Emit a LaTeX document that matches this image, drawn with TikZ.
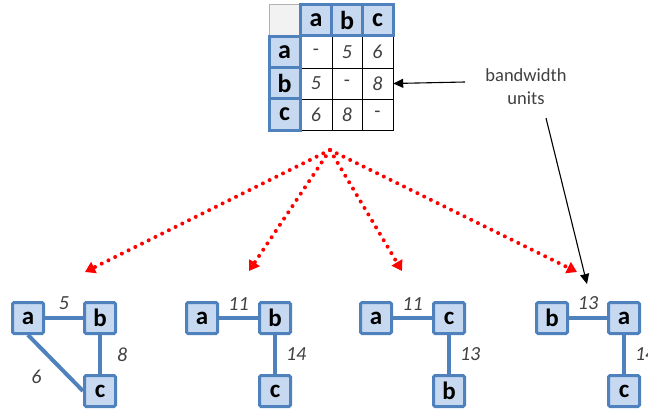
\documentclass[tikz,border=0pt]{standalone}
\usepackage{fontspec}
\setmainfont{Carlito}
\usetikzlibrary{positioning,arrows.meta,calc}
\definecolor{nodeblue}{RGB}{79,129,189}
\definecolor{nodefill}{RGB}{198,217,241}
\definecolor{numgray}{RGB}{64,64,64}
\definecolor{cornergray}{RGB}{242,242,242}
\tikzset{
  vtx/.style={draw=nodeblue,fill=nodefill,line width=3pt,rounded corners=1.5pt,minimum size=31pt,inner sep=0pt,font=\fontsize{25}{25}\selectfont\bfseries},
  hdr/.style={draw=nodeblue,fill=nodefill,line width=3pt,minimum width=31pt,minimum height=31.5pt,inner sep=0pt,font=\fontsize{26}{26}\selectfont\bfseries},
  cell/.style={minimum width=31pt,minimum height=31pt,inner sep=0pt,text=numgray,font=\fontsize{20}{20}\selectfont\itshape},
  link/.style={draw=nodeblue,line width=4pt},
  wt/.style={inner sep=1pt,text=numgray,font=\fontsize{20}{20}\selectfont\itshape},
  fanline/.style={red,line width=4pt,line cap=round,dash pattern=on 0pt off 7.5pt,shorten >=6pt},
  fantip/.style={red,line width=2.8pt,-{Triangle[open,length=10pt,width=12pt]}},
  ptr/.style={line width=1.1pt,-{Triangle[length=10pt,width=9pt]}}
}
\begin{document}
\begin{tikzpicture}[x=1pt,y=-1pt]
\useasboundingbox (0,0) rectangle (648,412);
% distance table
\draw[line width=0.8pt] (300,36) rectangle (393,130);
\draw[line width=0.8pt] (332,36) -- (332,130) (362,36) -- (362,130) (300,68) -- (393,68) (300,99) -- (393,99);
\node[draw=gray!60,fill=cornergray,line width=0.8pt,minimum width=31pt,minimum height=32pt] (corner) at (284.5,20) {};
\node[hdr] (ha) at (316,20) {a};
\node[hdr] (hb) at (347,20) {b};
\node[hdr] (hc) at (377.5,20) {c};
\node[hdr] (ra) at (284.5,52) {a};
\node[hdr] (rb) at (284.5,83.5) {b};
\node[hdr] (rc) at (284.5,114.5) {c};
\node[cell,font=\fontsize{20}{20}\selectfont] (aa) at (316,52) {-};
\node[cell] (ab) at (347,52) {5};
\node[cell] (ac) at (377.5,52) {6};
\node[cell] (ba) at (316,83.5) {5};
\node[cell,font=\fontsize{20}{20}\selectfont] (bb) at (347,83.5) {-};
\node[cell] (bc) at (377.5,83.5) {8};
\node[cell] (ca) at (316,114.5) {6};
\node[cell] (cb) at (347,114.5) {8};
\node[cell,font=\fontsize{20}{20}\selectfont] (cc) at (377.5,114.5) {-};
% note
\node[text=numgray,align=center,font=\fontsize{18.5}{23}\selectfont] (bw) at (526,87) {bandwidth\\units};
\coordinate (bwleft) at (465,82);
\coordinate (bwbelow) at (546,118);
\coordinate (hint) at (587,284);
\draw[ptr] (bwleft) -- (bc.east);
\draw[ptr] (bwbelow) -- (hint);
% fan of choices
\coordinate (fan) at (330,150);
\coordinate (t1) at (85,272);
\coordinate (t2) at (249,271);
\coordinate (t3) at (402,271);
\coordinate (t4) at (577,272);
\foreach \t in {t1,t2,t3,t4}{
  \draw[fanline] (fan) -- (\t);
  \draw[fantip] ($(\t)!3pt!(fan)$) -- (\t);
}
% full graph
\node[vtx] (a1) at (28,318) {a};
\node[vtx] (b1) at (100,318) {b};
\node[vtx] (c1) at (100,391) {c};
\draw[link] (a1) -- node[wt,above=5pt] {5} (b1);
\draw[link] (b1) -- node[wt,right=14pt] {8} (c1);
\draw[link] (a1.south) -- node[wt,below left=4pt and 11pt] {6} (c1.west);
% tree rooted at b
\node[vtx] (a2) at (202,318) {a};
\node[vtx] (b2) at (275,318) {b};
\node[vtx] (c2) at (275,391) {c};
\draw[link] (a2) -- node[wt,above=5pt] {11} (b2);
\draw[link] (b2) -- node[wt,right=8pt] {14} (c2);
% tree rooted at c
\node[vtx] (a3) at (376,318) {a};
\node[vtx] (c3) at (449,318) {c};
\node[vtx] (b3) at (449,391) {b};
\draw[link] (a3) -- node[wt,above=5pt] {11} (c3);
\draw[link] (c3) -- node[wt,right=8pt] {13} (b3);
% tree rooted at a
\node[vtx] (b4) at (552,318) {b};
\node[vtx] (a4) at (624,318) {a};
\node[vtx] (c4) at (624,391) {c};
\draw[link] (b4) -- node[wt,above=5pt] {13} (a4);
\draw[link] (a4) -- node[wt,right=8pt] {14} (c4);
\end{tikzpicture}
\end{document}
